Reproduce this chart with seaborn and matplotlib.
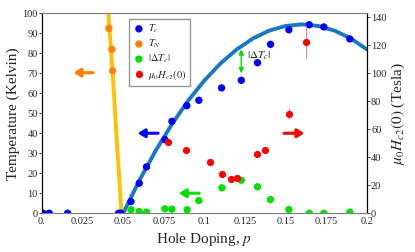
import seaborn as sns
import matplotlib.pyplot as plt

sns.set_style("white")
plt.rcParams['font.family'] = ['Liberation Serif', 'DejaVu Serif']
plt.rcParams['mathtext.fontset'] = 'stix'

# Tc data (Kelvin)
p_tc = [0.0008, 0.0045, 0.0158, 0.0472, 0.0485, 0.0548, 0.0599, 0.0644, 0.0757, 0.080,
        0.0892, 0.0966, 0.1106, 0.1227, 0.1327, 0.1407, 0.152, 0.1645, 0.1735, 0.1895]
tc = [0, 0, 0, 0, 0, 5.8, 15, 23.2, 36.8, 46, 53.8, 56.5, 62.7, 66.5, 75.3, 84.5,
      91.8, 94.3, 93.2, 87.2]

# TN data (Kelvin)
p_tn = [0.0412, 0.0431, 0.0435]
tn = [92.5, 82, 71.3]

# |delta Tc| (Kelvin)
p_dtc = [0.0548, 0.0599, 0.0644, 0.0757, 0.080, 0.0894, 0.0966, 0.1108, 0.1227,
         0.1327, 0.1407, 0.152, 0.1645, 0.1735, 0.1895]
dtc = [1.7, 0.8, 0.5, 2.2, 2.0, 1.7, 6.3, 12.7, 16.5, 13.2, 6.8, 1.8, 0, 0, 0.5]

# Hc2(0) (Tesla)
p_hc2 = [0.0778, 0.0888, 0.1036, 0.1110, 0.1161, 0.1202, 0.1322, 0.1372, 0.1522, 0.1623]
hc2 = [50.7, 45.4, 36.5, 28.0, 24.3, 25.0, 42.2, 44.8, 71.2, 122.6]
hc2_err = [1.5, 1.5, 1.5, 1.5, 1.5, 1.5, 1.5, 2.0, 4.0, 12.0]

# Tc dome
p_dome = [0.05, 0.06, 0.07, 0.08, 0.09, 0.10, 0.11, 0.12, 0.13, 0.14, 0.15, 0.16,
          0.17, 0.18, 0.19, 0.20]
tc_dome = [0, 16.4, 31.3, 44.5, 56.3, 66.4, 75.0, 82.0, 87.5, 91.4, 93.7, 94.5,
           93.7, 91.4, 87.5, 82.0]

# TN line
p_tnline = [0.0405, 0.0436, 0.0458, 0.0490]
tn_line = [104, 70, 40, 0]

fig, ax = plt.subplots(figsize=(4.15, 2.52), dpi=100)
fig.subplots_adjust(left=0.101, right=0.884, bottom=0.154, top=0.947)

ax.plot(p_dome, tc_dome, color='#1a78c2', lw=2.8, zorder=2)
ax.plot(p_tnline, tn_line, color='#ffc000', lw=2.8, zorder=2)
sns.scatterplot(x=p_tc, y=tc, ax=ax, color='#0000ff', s=28, edgecolor='none', zorder=3,
                label=r'$T_c$')
sns.scatterplot(x=p_tn, y=tn, ax=ax, color='#ff8000', s=28, edgecolor='none', zorder=3,
                label=r'$T_N$')
sns.scatterplot(x=p_dtc, y=dtc, ax=ax, color='#00e000', s=28, edgecolor='none', zorder=3,
                label=r'$|\Delta T_c|$')

ax.set_xlim(0, 0.2)
ax.set_ylim(0, 100)
ax.set_xticks([0, 0.025, 0.05, 0.075, 0.1, 0.125, 0.15, 0.175, 0.2])
ax.set_xticklabels(['0.', '0.025', '0.05', '0.075', '0.1', '0.125', '0.15', '0.175', '0.2'])
ax.set_yticks(range(0, 101, 10))
ax.tick_params(labelsize=7.5, length=2, width=0.6, pad=1, direction='out')
ax.set_xlabel(r'Hole Doping, $p$', fontsize=11, labelpad=3)
ax.set_ylabel('Temperature (Kelvin)', fontsize=11, labelpad=2)

ax2 = ax.twinx()
ax2.errorbar(p_hc2, hc2, yerr=hc2_err, fmt='o', color='#ff0000', ms=5.2, mec='none',
             elinewidth=0.6, ecolor='#ff6060', capsize=0, zorder=3)
ax2.set_ylim(0, 142.8)
ax2.set_yticks(range(0, 141, 20))
ax2.tick_params(labelsize=7.5, length=2, width=0.6, pad=1, direction='out')
ax2.set_ylabel(r'$\mu_0 H_{c2}(0)$ (Tesla)', fontsize=11, labelpad=2)

for a in (ax, ax2):
    a.spines['top'].set_color('#808080')
    a.spines['bottom'].set_color('#808080')
    a.spines['left'].set_color('black')
    a.spines['right'].set_color('black')
    for s in a.spines.values():
        s.set_linewidth(0.8)

# legend with the red entry
h, l = ax.get_legend_handles_labels()
rh = plt.Line2D([], [], marker='o', ls='none', color='#ff0000', ms=5.2, mec='none')
ax.get_legend().remove()
ax2.legend(h + [rh], l + [r'$\mu_0 H_{c2}(0)$'], loc='upper left', bbox_to_anchor=(0.268, 0.972),
           fontsize=7.5, frameon=True, fancybox=False, edgecolor='#808080', handletextpad=0.3,
           borderpad=0.35, labelspacing=0.25, handlelength=1.2, borderaxespad=0)

# arrows pointing to axes
arrow_kw = dict(arrowstyle='-|>,head_length=0.4,head_width=0.25', lw=2.2, shrinkA=0, shrinkB=0)
ax.annotate('', xy=(0.0195, 70.3), xytext=(0.0315, 70.3),
            arrowprops=dict(color='#ff8000', **arrow_kw))
ax.annotate('', xy=(0.059, 40), xytext=(0.0715, 40),
            arrowprops=dict(color='#0000ff', **arrow_kw))
ax.annotate('', xy=(0.0843, 10), xytext=(0.0968, 10),
            arrowprops=dict(color='#00e000', **arrow_kw))
ax.annotate('', xy=(0.1615, 40), xytext=(0.149, 40),
            arrowprops=dict(color='#ff0000', **arrow_kw))

# delta Tc marker
ax.annotate('', xy=(0.1227, 82), xytext=(0.1227, 70),
            arrowprops=dict(arrowstyle='<|-|>,head_length=0.3,head_width=0.15', color='#00e000',
                            lw=1.0, shrinkA=0, shrinkB=0))
ax.text(0.1265, 79, r'$|\Delta T_c|$', fontsize=8, va='center', ha='left')

plt.savefig('out.png', dpi=100)
